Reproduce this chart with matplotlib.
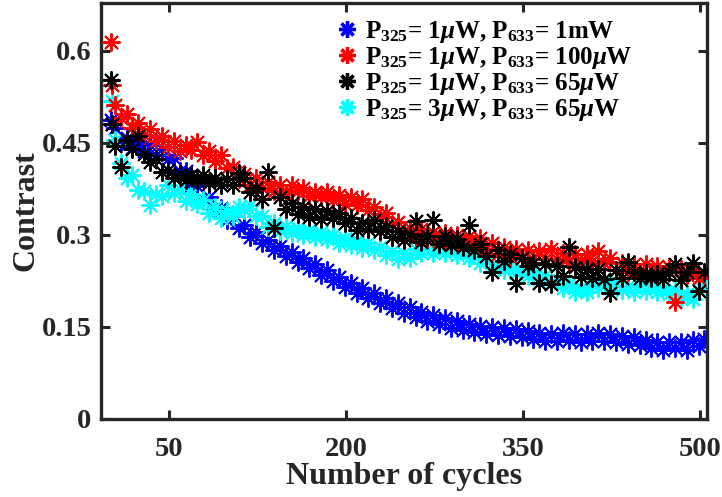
import numpy as np
import matplotlib.pyplot as plt
from matplotlib.lines import Line2D

plt.rcParams['font.family'] = 'Liberation Serif'
plt.rcParams['font.weight'] = 'bold'
plt.rcParams['mathtext.fontset'] = 'custom'
plt.rcParams['mathtext.rm'] = 'Liberation Serif:bold'
plt.rcParams['mathtext.bf'] = 'Liberation Serif:bold'
plt.rcParams['mathtext.it'] = 'Liberation Serif:italic'

# cycle numbers: two early readings, then every 5 cycles
cycles = np.concatenate([[1, 2], np.arange(4, 505, 5)])

contrast_1mW = [
    0.487, 0.480,
    0.474, 0.452, 0.458, 0.441, 0.450, 0.436, 0.446, 0.431, 0.440, 0.424,
    0.426, 0.404, 0.404, 0.380, 0.380, 0.358, 0.361, 0.340, 0.344, 0.325,
    0.331, 0.312, 0.316, 0.297, 0.304, 0.286, 0.292, 0.275, 0.282, 0.265,
    0.272, 0.256, 0.263, 0.246, 0.252, 0.235, 0.242, 0.225, 0.232, 0.215,
    0.222, 0.206, 0.213, 0.197, 0.205, 0.189, 0.197, 0.181, 0.189, 0.173,
    0.182, 0.166, 0.175, 0.160, 0.169, 0.154, 0.164, 0.149, 0.159, 0.145,
    0.155, 0.141, 0.152, 0.139, 0.150, 0.137, 0.148, 0.135, 0.146, 0.133,
    0.143, 0.130, 0.140, 0.127, 0.139, 0.127, 0.140, 0.128, 0.139, 0.126,
    0.138, 0.127, 0.140, 0.127, 0.138, 0.125, 0.136, 0.123, 0.134, 0.120,
    0.129, 0.115, 0.125, 0.112, 0.125, 0.115, 0.126, 0.113, 0.128, 0.119, 0.131,
]

contrast_100uW = [
    0.615, 0.545,
    0.511, 0.491, 0.497, 0.475, 0.483, 0.463, 0.472, 0.453, 0.462, 0.443,
    0.453, 0.436, 0.446, 0.438, 0.452, 0.431, 0.437, 0.421, 0.431, 0.409,
    0.411, 0.391, 0.399, 0.381, 0.392, 0.376, 0.387, 0.371, 0.382, 0.366,
    0.381, 0.371, 0.377, 0.363, 0.370, 0.361, 0.370, 0.357, 0.365, 0.351,
    0.362, 0.348, 0.358, 0.340, 0.346, 0.328, 0.335, 0.317, 0.321, 0.305,
    0.312, 0.297, 0.309, 0.293, 0.305, 0.290, 0.303, 0.288, 0.300, 0.285,
    0.298, 0.285, 0.295, 0.277, 0.287, 0.269, 0.280, 0.264, 0.277, 0.263,
    0.276, 0.261, 0.274, 0.260, 0.277, 0.261, 0.271, 0.256, 0.269, 0.254,
    0.269, 0.257, 0.274, 0.255, 0.262, 0.243, 0.255, 0.240, 0.253, 0.238,
    0.252, 0.237, 0.250, 0.235, 0.247, 0.190, 0.245, 0.234, 0.243, 0.229, 0.234,
]

contrast_65uW = [
    0.553, 0.480,
    0.445, 0.410, 0.455, 0.440, 0.462, 0.432, 0.419, 0.424, 0.402, 0.406,
    0.392, 0.400, 0.390, 0.398, 0.389, 0.398, 0.385, 0.393, 0.382, 0.391,
    0.382, 0.401, 0.392, 0.370, 0.376, 0.358, 0.403, 0.311, 0.362, 0.343,
    0.352, 0.334, 0.345, 0.329, 0.342, 0.326, 0.339, 0.328, 0.335, 0.320,
    0.327, 0.308, 0.320, 0.310, 0.324, 0.307, 0.315, 0.296, 0.307, 0.291,
    0.302, 0.322, 0.288, 0.298, 0.325, 0.285, 0.298, 0.283, 0.294, 0.280,
    0.316, 0.276, 0.285, 0.265, 0.240, 0.275, 0.258, 0.269, 0.222, 0.263,
    0.249, 0.255, 0.222, 0.252, 0.220, 0.249, 0.233, 0.281, 0.247, 0.231,
    0.245, 0.229, 0.244, 0.228, 0.205, 0.242, 0.229, 0.256, 0.240, 0.229,
    0.238, 0.230, 0.237, 0.228, 0.239, 0.252, 0.226, 0.239, 0.255, 0.208, 0.240,
]

contrast_3uW = [
    0.553, 0.518,
    0.455, 0.417, 0.393, 0.397, 0.373, 0.372, 0.349, 0.367, 0.363, 0.382,
    0.368, 0.375, 0.355, 0.366, 0.350, 0.357, 0.335, 0.345, 0.328, 0.339,
    0.330, 0.345, 0.340, 0.348, 0.330, 0.330, 0.313, 0.320, 0.307, 0.315,
    0.303, 0.311, 0.300, 0.308, 0.297, 0.305, 0.293, 0.300, 0.287, 0.295,
    0.283, 0.291, 0.279, 0.287, 0.275, 0.281, 0.267, 0.273, 0.260, 0.271,
    0.263, 0.277, 0.270, 0.281, 0.271, 0.280, 0.270, 0.279, 0.267, 0.275,
    0.263, 0.270, 0.255, 0.260, 0.247, 0.255, 0.243, 0.250, 0.238, 0.245,
    0.233, 0.241, 0.228, 0.235, 0.221, 0.227, 0.213, 0.220, 0.207, 0.215,
    0.207, 0.220, 0.213, 0.225, 0.217, 0.223, 0.210, 0.217, 0.207, 0.218,
    0.209, 0.218, 0.207, 0.215, 0.203, 0.210, 0.195, 0.203, 0.195, 0.210, 0.222,
]

labels = [
    'P$_{325}$= 1$\\mu$W, P$_{633}$= 1mW',
    'P$_{325}$= 1$\\mu$W, P$_{633}$= 100$\\mu$W',
    'P$_{325}$= 1$\\mu$W, P$_{633}$= 65$\\mu$W',
    'P$_{325}$= 3$\\mu$W, P$_{633}$= 65$\\mu$W',
]
colors = ['#0000ff', '#ff0000', '#000000', '#00ffff']
series = [contrast_1mW, contrast_100uW, contrast_65uW, contrast_3uW]
# drawing order: blue, cyan, red, black on top
zorders = [2, 4, 5, 3]

asterisk = (8, 2, 0)

fig = plt.figure(figsize=(7.22, 4.97), dpi=100)
ax = fig.add_axes([0.140, 0.157, 0.839, 0.837])

for y, c, z in zip(series, colors, zorders):
    ax.plot(cycles, y, linestyle='none', marker=asterisk, markersize=13,
            markeredgewidth=1.4, color=c, zorder=z)

ax.set_xlim(-7.6, 506)
ax.set_ylim(0, 0.678)
ax.set_xticks([50, 200, 350, 500])
ax.set_yticks([0, 0.15, 0.3, 0.45, 0.6])
ax.set_yticklabels(['0', '0.15', '0.3', '0.45', '0.6'])

dark = '#262626'
for s in ax.spines.values():
    s.set_linewidth(2.4)
    s.set_color(dark)
ax.tick_params(direction='in', length=6.5, width=2.2, color=dark,
               labelsize=20.5, labelcolor=dark, top=True, right=True)
ax.tick_params(axis='x', pad=13)
ax.tick_params(axis='y', pad=7)
for lab in ax.get_xticklabels() + ax.get_yticklabels():
    lab.set_fontweight('bold')

ax.set_xlabel('Number of cycles', fontsize=23, fontweight='bold', color=dark,
              labelpad=0)
ax.set_ylabel('Contrast', fontsize=23, fontweight='bold', color=dark,
              labelpad=1)

handles = [Line2D([], [], linestyle='none', marker=asterisk, markersize=12,
                  markeredgewidth=2.4, color=c) for c in colors]
ax.legend(handles, labels, loc='upper left', bbox_to_anchor=(0.389, 0.962),
          frameon=False, handlelength=0.8, handletextpad=0.35,
          borderpad=0, borderaxespad=0, labelspacing=0.0,
          prop={'weight': 'bold', 'size': 18})

fig.savefig('out.png', dpi=100)
